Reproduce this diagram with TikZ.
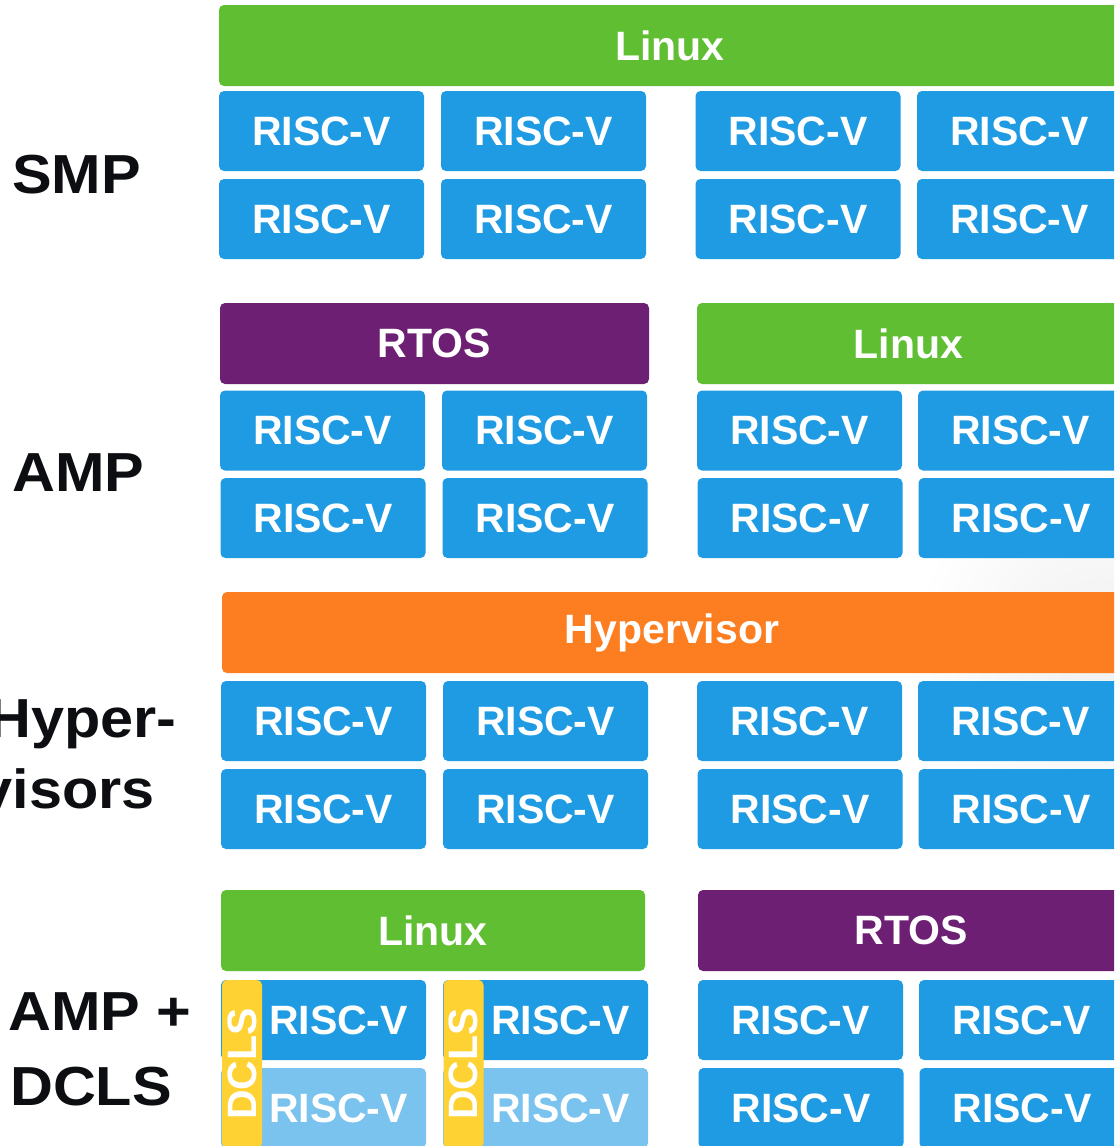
\documentclass[tikz,border=0pt]{standalone}
\usepackage{fontspec}
\setmainfont{Liberation Sans}
\newfontfamily\lblfont[FakeStretch=1.08]{Liberation Sans}
\definecolor{cgreen}{HTML}{5FBE32}
\definecolor{cblue}{HTML}{1E9BE2}
\definecolor{clblue}{HTML}{79C3EE}
\definecolor{cpurple}{HTML}{6D2073}
\definecolor{corange}{HTML}{FC7E20}
\definecolor{cyellow}{HTML}{FFD233}
\definecolor{ctext}{HTML}{0D0E12}
\begin{document}
\begin{tikzpicture}[x=1pt,y=-1pt,
  boxbase/.style={rounded corners=5pt,inner sep=0pt,text=white,
    font=\fontsize{41}{43}\selectfont\bfseries},
  core/.style={boxbase,fill=cblue,minimum width=205pt,minimum height=80pt},
  lcore/.style={boxbase,fill=clblue,minimum width=205pt,minimum height=80pt},
  osbar/.style={boxbase,minimum height=81pt},
  dcls/.style={boxbase,fill=cyellow,minimum width=168pt,minimum height=40pt,rotate=90},
  lbl/.style={inner sep=0pt,text=ctext,anchor=base west,
    font=\fontsize{55}{58}\lblfont\bfseries}]
\useasboundingbox (0,0) rectangle (1114,1146);
\clip (0,0) rectangle (1114,1146);
\fill[white] (0,0) rectangle (1114,1146);
\shade[inner color=black!6,outer color=white] (1100,650) circle (190pt);

% ---- left labels
\node[lbl] (lsmp) at (12,193) {SMP};
\node[lbl] (lamp) at (12,491) {AMP};
\node[lbl,anchor=base east] (lhyp1) at (177,737) {Hyper-};
\node[lbl,anchor=base east] (lhyp2) at (155,808) {visors};
\node[lbl] (ldc1) at (8,1030) {AMP +};
\node[lbl] (ldc2) at (10,1105) {DCLS};

% ---- SMP
\node[osbar,fill=cgreen,minimum width=920pt] (smpos) at (679,45.5) {\hspace*{-18pt}Linux};
\node[core] (s11) at (321.5,131) {RISC-V};
\node[core] (s12) at (543.5,131) {RISC-V};
\node[core] (s13) at (798,131) {RISC-V};
\node[core] (s14) at (1019.5,131) {RISC-V};
\node[core] (s21) at (321.5,219) {RISC-V};
\node[core] (s22) at (543.5,219) {RISC-V};
\node[core] (s23) at (798,219) {RISC-V};
\node[core] (s24) at (1019.5,219) {RISC-V};

% ---- AMP
\node[osbar,fill=cpurple,minimum width=429pt] (amprt) at (434.5,343.5) {RTOS};
\node[osbar,fill=cgreen,minimum width=440pt] (amplx) at (917,343.5) {\hspace*{-17pt}Linux};
\node[core] (a11) at (322.5,430.5) {RISC-V};
\node[core] (a12) at (544.5,430.5) {RISC-V};
\node[core] (a13) at (799.5,430.5) {RISC-V};
\node[core] (a14) at (1020.5,430.5) {RISC-V};
\node[core] (a21) at (323,518) {RISC-V};
\node[core] (a22) at (545,518) {RISC-V};
\node[core] (a23) at (800,518) {RISC-V};
\node[core] (a24) at (1021,518) {RISC-V};

% ---- Hypervisor
\node[osbar,fill=corange,minimum width=912pt] (hyp) at (678,632.5) {\hspace*{-12pt}Hypervisor};
\node[core] (h11) at (323.5,721) {RISC-V};
\node[core] (h12) at (545.5,721) {RISC-V};
\node[core] (h13) at (799.5,721) {RISC-V};
\node[core] (h14) at (1020.5,721) {RISC-V};
\node[core] (h21) at (323.5,809) {RISC-V};
\node[core] (h22) at (545.5,809) {RISC-V};
\node[core] (h23) at (800,809) {RISC-V};
\node[core] (h24) at (1021,809) {RISC-V};

% ---- AMP + DCLS
\node[osbar,fill=cgreen,minimum width=424pt] (dlx) at (433,930.5) {Linux};
\node[osbar,fill=cpurple,minimum width=440pt] (drt) at (918,930.5) {\hspace*{-14pt}RTOS};
\node[core] (d11) at (323.5,1020) {\hspace*{30pt}RISC-V};
\node[core] (d12) at (545.5,1020) {\hspace*{30pt}RISC-V};
\node[lcore] (d21) at (323.5,1108) {\hspace*{30pt}RISC-V};
\node[lcore] (d22) at (545.5,1108) {\hspace*{30pt}RISC-V};
\node[dcls] (dc1) at (242,1064) {DCLS};
\node[dcls] (dc2) at (463.5,1064) {DCLS};
\node[core] (d13) at (800.5,1020) {RISC-V};
\node[core] (d14) at (1021.5,1020) {RISC-V};
\node[core] (d23) at (801,1108) {RISC-V};
\node[core] (d24) at (1022,1108) {RISC-V};
\end{tikzpicture}
\end{document}
